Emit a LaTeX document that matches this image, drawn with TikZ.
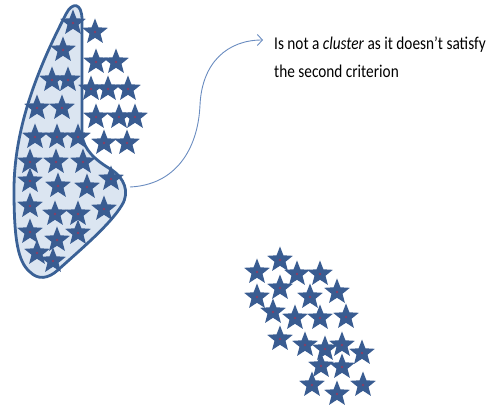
\documentclass[tikz,border=0pt]{standalone}
\usepackage{fontspec}
\setmainfont{Carlito}
\usetikzlibrary{arrows.meta}
\definecolor{starblue}{HTML}{395C91}
\definecolor{stardot}{HTML}{8A3E63}
\definecolor{shapefill}{HTML}{DBE5F1}
\definecolor{shapeline}{HTML}{3A6196}
\definecolor{arrowcol}{HTML}{6A8CC0}
\tikzset{
  st/.pic={
    \fill[starblue] (-90:13.5) -- (-54:5.8) -- (-18:13.5) -- (18:5.8) -- (54:13.5) -- (90:5.8)
      -- (126:13.5) -- (162:5.8) -- (198:13.5) -- (234:5.8) -- cycle;
    \fill[stardot] (0,0) circle (1.3);
  },
  lbl/.style={font=\fontsize{18}{22}\selectfont, inner sep=0pt, anchor=base west, xscale=0.85, transform shape}
}
\begin{document}
\begin{tikzpicture}[x=1pt,y=-1pt]
\useasboundingbox (0,0) rectangle (491,411);
% cluster outline
\draw[shapeline, fill=shapefill, line width=2.8pt, line join=round]
  (82,135) -- (82,20) .. controls (82,2) and (72,2) .. (66,14)
  .. controls (45,55) and (14,120) .. (14,190)
  .. controls (14,240) and (18,262) .. (30,272)
  .. controls (38,280) and (48,279) .. (58,270)
  .. controls (80,250) and (110,225) .. (122,205)
  .. controls (130,192) and (124,178) .. (112,170)
  .. controls (95,160) and (84,150) .. (82,135) -- cycle;
% left group stars
\foreach \x/\y in {73/23,95/32,63/50,96/62,116/62,52/80,68/80,91/89,108/89,128/89,
  37/108,62/108,96/117,119/117,135/117,35/137,57/137,78/137,104/143,127/143,
  30/162,56/162,83/162,30/181,58/186,87/187,111/179,30/206,55/214,78/214,104/209,
  30/232,57/240,78/233,37/253,53/261}
  \pic at (\x,\y) {st};
% right group stars
\foreach \x/\y in {280/260,257/272,297/274,320/274,280/288,257/297,310/297,337/292,
  273/312,295/318,320/318,346/317,280/339,305/345,325/349,342/345,362/353,
  321/366,342/367,312/385,337/394,363/385}
  \pic at (\x,\y) {st};
% annotation
\coordinate (from) at (130,187);
\node[lbl] (t1) at (274,50) {Is not a \textit{cluster} as it doesn’t satisfy};
\node[lbl] (t2) at (274,78) {the second criterion};
\coordinate (tip) at (263,40);
\draw[arrowcol, line width=0.9pt, -{Straight Barb[length=5pt,width=11pt]}]
  (from) .. controls (175,185) and (198,150) .. (200,105)
  .. controls (202,62) and (228,40) .. (tip);
\end{tikzpicture}
\end{document}
